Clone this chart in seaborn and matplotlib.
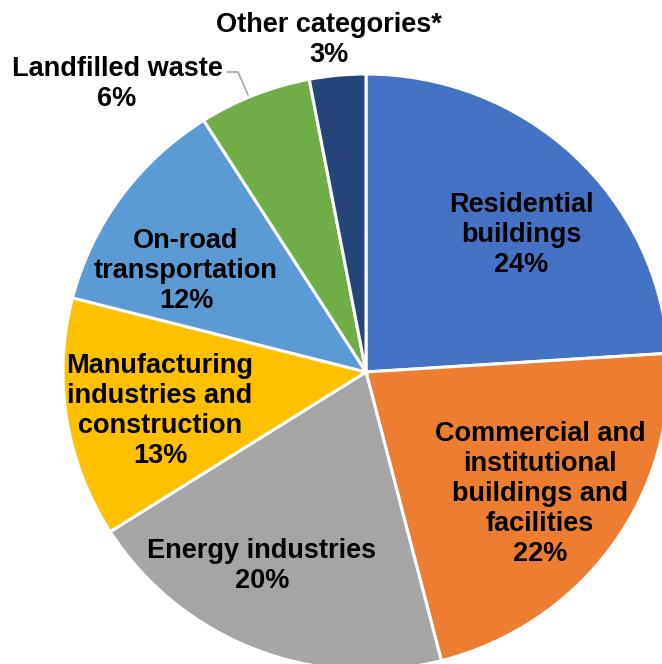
import matplotlib
matplotlib.use("Agg")
import matplotlib.pyplot as plt
import seaborn as sns

sns.set_theme(style="white")
plt.rcParams['font.family'] = ['Liberation Sans', 'DejaVu Sans']

categories = ["Residential\nbuildings", "Commercial and\ninstitutional\nbuildings and\nfacilities",
              "Energy industries", "Manufacturing\nindustries and\nconstruction",
              "On-road\ntransportation", "Landfilled waste", "Other categories*"]
values = [24, 22, 20, 13, 12, 6, 3]
colors = ["#4472C4", "#ED7D31", "#A5A5A5", "#FFC000", "#5B9BD5", "#70AD47", "#264478"]
palette = sns.color_palette(colors)

W, H = 662, 664
CX, CY, RX, RY = 366, 372, 303, 298

def px(x, y):
    return (x - CX) / RX, (CY - y) / RY

fig = plt.figure(figsize=(W / 100, H / 100), dpi=100)
ax = fig.add_axes([0, 0, 1, 1])
ax.pie(values, colors=palette, startangle=90, counterclock=False,
       wedgeprops=dict(edgecolor="white", linewidth=2.2))
ax.set_aspect("auto")
ax.set_xlim(-CX / RX, (W - CX) / RX)
ax.set_ylim(-(H - CY) / RY, CY / RY)
ax.axis("off")

# label pixel centres
label_pos = [(521, 235), (540, 494), (262, 566), (160, 411), (186, 271), (117, 84), (329, 40)]
for cat, v, (lx, ly) in zip(categories, values, label_pos):
    x, y = px(lx, ly)
    ax.text(x, y, f"{cat}\n{v}%", ha="center", va="center", multialignment="center",
            fontsize=19.5, fontweight="bold", color="black", linespacing=1.2)

# leader line for landfilled waste
p1 = px(227, 72); p2 = px(238, 72); p3 = px(248, 95)
ax.plot([p1[0], p2[0], p3[0]], [p1[1], p2[1], p3[1]], color="#A6A6A6", lw=1.2)

fig.savefig("out.png", dpi=100)
